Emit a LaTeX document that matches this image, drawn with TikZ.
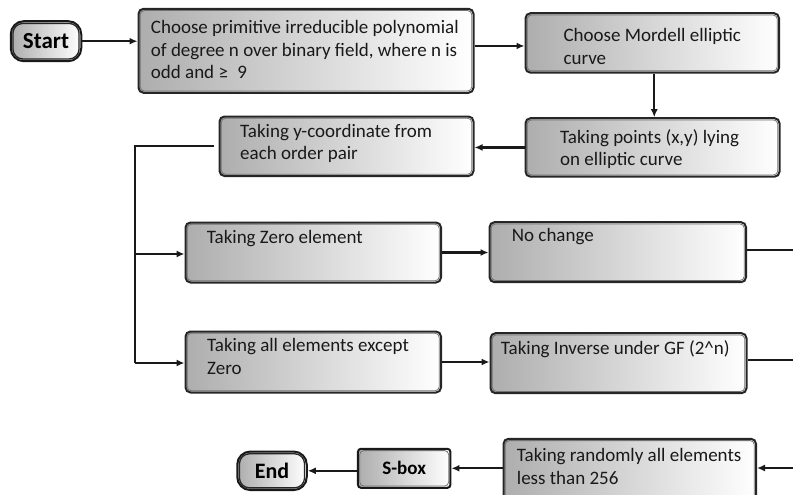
\documentclass[tikz,border=0pt]{standalone}
\usepackage{fontspec}
\setmainfont{Carlito}
\usetikzlibrary{arrows.meta}
\begin{document}
\begin{tikzpicture}[x=1pt,y=-1pt,
  flowbox/.style={draw=black!85, line width=2pt, rounded corners=5pt, left color=black!32, right color=white, inner sep=0pt, anchor=north west},
  pill/.style={draw=black!90, line width=2pt, rounded corners=13pt, left color=black!32, right color=white, inner sep=0pt},
  sboxstyle/.style={draw=black!90, line width=2pt, rounded corners=3pt, left color=black!32, right color=white, inner sep=0pt},
  inset/.style={draw=black!55, line width=0.8pt, rounded corners=4pt},
  pillinset/.style={draw=black!85, line width=1.3pt, rounded corners=10pt},
  txt/.style={anchor=base west, inner sep=0pt, font=\fontsize{19}{22.5}\selectfont, text=black!90},
  conn/.style={line width=2.2pt, draw=black!90},
  arr/.style={conn, -{Latex[length=8pt,width=7pt]}}]
\useasboundingbox (0,0) rectangle (793,495);

% boxes
\node[flowbox, minimum width=335pt, minimum height=84pt] (b1) at (137.5,7.8) {};
\node[flowbox, minimum width=253.5pt, minimum height=59.5pt] (b2) at (524.5,12.2) {};
\node[flowbox, minimum width=254pt, minimum height=58.5pt] (b3) at (524.5,117.2) {};
\node[flowbox, minimum width=254pt, minimum height=59.5pt] (b4) at (218.5,115.5) {};
\node[flowbox, minimum width=255.5pt, minimum height=60pt] (b5) at (184.5,221.5) {};
\node[flowbox, minimum width=256.5pt, minimum height=60pt] (b6) at (488.5,221.2) {};
\node[flowbox, minimum width=255.5pt, minimum height=61pt] (b7) at (184.5,330.5) {};
\node[flowbox, minimum width=256pt, minimum height=60pt] (b8) at (489.5,332.2) {};
\node[flowbox, minimum width=252.5pt, minimum height=62pt] (b9) at (502.5,437.8) {};
\node[pill, minimum width=70.5pt, minimum height=40pt] (start) at (46,41.2) {};
\node[pill, minimum width=69.5pt, minimum height=38.5pt] (end) at (272,470.8) {};
\node[sboxstyle, minimum width=92.5pt, minimum height=39pt] (sbox) at (404.2,468.3) {};

\foreach \n in {b1,b2,b3,b4,b5,b6,b7,b8,b9,sbox}
  \draw[inset] ([shift={(2.8pt,-2.8pt)}]\n.north west) rectangle ([shift={(-2.8pt,2.8pt)}]\n.south east);
\foreach \n in {start,end}
  \draw[pillinset] ([shift={(3.2pt,-3.2pt)}]\n.north west) rectangle ([shift={(-3.2pt,3.2pt)}]\n.south east);

% labels of start/end/sbox
\node[font=\fontsize{23}{26}\selectfont\bfseries, inner sep=0pt] (starttxt) at (start.center) {Start};
\node[font=\fontsize{22}{26}\selectfont\bfseries, inner sep=0pt] (endtxt) at (end.center) {End};
\node[font=\fontsize{19}{22}\selectfont\bfseries, inner sep=0pt] (sboxtxt) at (sbox.center) {S-box};

% box texts
\node[txt] (t1) at (150.7,34) {\parbox[t]{340pt}{\raggedright Choose primitive irreducible polynomial\\ of degree n over binary field, where n is\\ odd and ≥\enspace 9}};
\node[txt] (t2) at (563.3,41.7) {\parbox[t]{240pt}{\raggedright Choose Mordell elliptic\\ curve}};
\node[txt] (t3) at (560,143.3) {\parbox[t]{240pt}{\raggedright Taking points (x,y) lying\\ on elliptic curve}};
\node[txt] (t4) at (240,137.3) {\parbox[t]{240pt}{\raggedright Taking y-coordinate from\\ each order pair}};
\node[txt] (t5) at (206.7,243.3) {\parbox[t]{240pt}{\raggedright Taking Zero element}};
\node[txt] (t6) at (511.7,241.7) {\parbox[t]{240pt}{\raggedright No change}};
\node[txt] (t7) at (207,351.7) {\parbox[t]{240pt}{\raggedright Taking all elements except\\ Zero}};
\node[txt] (t8) at (500.7,354) {\parbox[t]{250pt}{\raggedright Taking Inverse under GF (2\textasciicircum n)}};
\node[txt] (t9) at (516.7,461.7) {\parbox[t]{250pt}{\raggedright Taking randomly all elements\\ less than 256}};

% connectors
\draw[arr] (start.east) -- (start.east -| b1.west);
\coordinate (p2) at ([yshift=-3pt]b2.west);
\draw[arr] (b1.east |- p2) -- (p2);
\draw[arr] ([xshift=2pt]b2.south) -- ([xshift=2pt]b2.south |- b3.north);
\draw[arr] (b3.west) -- (b3.west -| b4.east);

\coordinate (j2) at (135,363);
\coordinate (j3) at (135,254);
\draw[conn] ([xshift=-5pt]b4.west) -| (j2);
\draw[arr] (j3) -- (j3 -| b5.west);
\draw[arr] (j2) -- (j2 -| b7.west);
\draw[arr] (b5.east) -- (b5.east -| b6.west);
\draw[arr] (b7.east) -- (b7.east -| b8.west);

\coordinate (rc) at (805,0);
\coordinate (a9) at ([yshift=1.8pt]b9.east);
\coordinate (r6) at ([yshift=2pt]b6.east);
\coordinate (r8) at ([yshift=3pt]b8.east);
\draw[conn] (r6) -- (r6 -| rc) -- (rc |- a9);
\draw[conn] (r8) -- (r8 -| rc);
\draw[arr] (rc |- a9) -- (a9);
\draw[arr] (b9.west |- sbox.east) -- (sbox.east);
\draw[arr] (sbox.west |- end.east) -- (end.east);
\end{tikzpicture}
\end{document}
